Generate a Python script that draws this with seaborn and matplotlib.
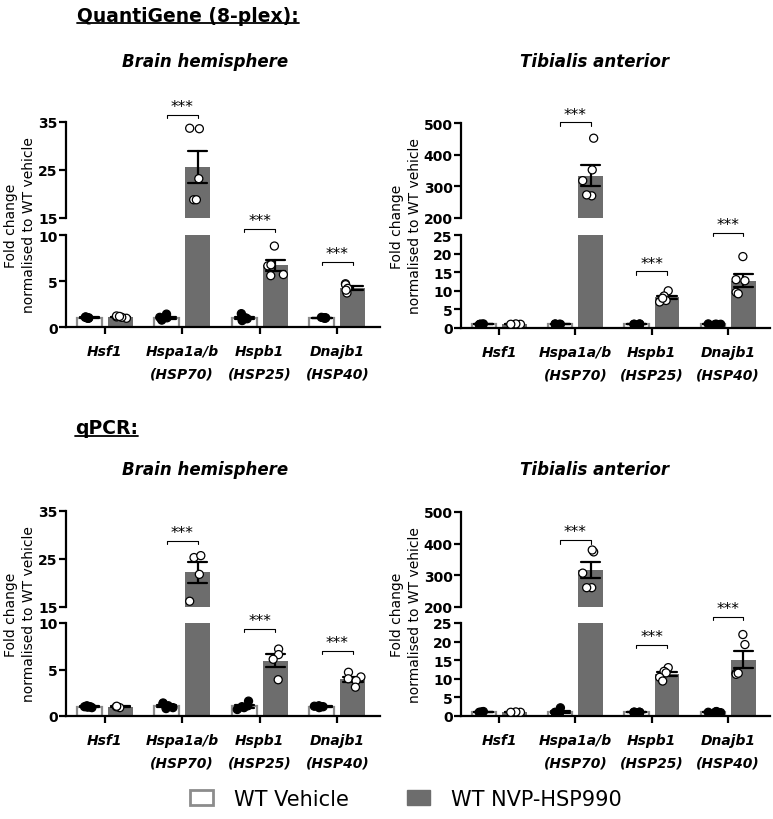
import numpy as np
import pandas as pd
import matplotlib
matplotlib.use("Agg")
import matplotlib.pyplot as plt
import seaborn as sns
from matplotlib.patches import Patch
from matplotlib.lines import Line2D

genes = ["Hsf1", "Hspa1a/b\n(HSP70)", "Hspb1\n(HSP25)", "Dnajb1\n(HSP40)"]
groups = ["WT Vehicle", "WT NVP-HSP990"]

# QuantiGene - brain hemisphere
qg_brain_vehicle = [[0.95, 1.0, 1.05, 1.1, 0.95], [0.75, 0.85, 1.0, 1.05, 1.4],
                    [0.7, 0.9, 1.0, 1.0, 1.45], [0.95, 1.0, 1.0, 1.05, 1.0]]
qg_brain_drug = [[0.95, 1.05, 1.1, 1.2, 1.15], [33.6, 33.7, 23.2, 18.8, 18.8],
                 [8.8, 6.65, 6.76, 5.7, 5.58], [4.7, 4.6, 4.2, 3.7, 4.0]]
qg_brain_stars = [None, 36.5, 10.65, 7.1]

# QuantiGene - tibialis anterior
qg_ta_vehicle = [[0.9, 1.0, 1.1, 1.0, 1.0], [0.9, 1.0, 1.0, 1.1, 1.0],
                 [1.0, 1.1, 1.0, 0.9, 1.0], [1.0, 1.1, 0.9, 1.0, 1.0]]
qg_ta_drug = [[0.9, 1.0, 1.1, 1.0], [452, 352, 318, 270, 273],
              [10.0, 8.6, 7.4, 7.0, 8.0], [19.2, 12.7, 13.0, 9.6, 9.2]]
qg_ta_stars = [None, 502, 15.2, 25.5]

# qPCR - brain hemisphere
qpcr_brain_vehicle = [[0.9, 1.0, 1.1, 1.0, 0.95], [0.8, 0.9, 1.1, 1.4, 1.3],
                      [0.7, 0.9, 1.0, 1.1, 1.6], [0.9, 1.0, 1.1, 1.0, 1.05]]
qpcr_brain_drug = [[0.9, 1.0, 1.05], [25.3, 25.7, 21.8, 16.2],
                   [7.2, 6.6, 6.1, 3.9], [4.7, 4.2, 4.0, 3.8, 3.1]]
qpcr_brain_stars = [None, 28.8, 9.4, 7.0]

# qPCR - tibialis anterior
qpcr_ta_vehicle = [[1.0, 1.1, 1.2, 0.9, 1.0], [0.5, 0.7, 0.9, 1.0, 2.2],
                   [0.95, 1.0, 1.05, 1.0, 1.0], [0.9, 1.0, 1.1, 1.0, 1.2]]
qpcr_ta_drug = [[0.9, 1.0, 1.1, 1.0], [374, 380, 307, 261, 261],
                [13.0, 12.0, 11.6, 10.4, 9.4], [21.9, 19.2, 11.5, 11.2, 11.5]]
qpcr_ta_stars = [None, 411, 19.2, 26.6]

brain_low_ticks = [0, 5, 10]
brain_high_ticks = [15, 25, 35]
ta_low_ticks = [0, 5, 10, 15, 20, 25]
ta_high_ticks = [200, 300, 400, 500]

DRUG = "#6d6d6d"
VEH_EDGE = "#8c8c8c"
W, H = 773, 820

sns.set_theme(style="white")
plt.rcParams["font.family"] = ["DejaVu Sans"]
plt.rcParams["text.color"] = "black"
plt.rcParams["axes.labelcolor"] = "black"
plt.rcParams["xtick.color"] = "black"
plt.rcParams["ytick.color"] = "black"


def to_frame(vehicle, drug):
    rows = []
    for g, v, d in zip(genes, vehicle, drug):
        rows += [(g, groups[0], x) for x in v]
        rows += [(g, groups[1], x) for x in d]
    return pd.DataFrame(rows, columns=["gene", "group", "value"])


def px_axes(fig, x0, x1, ytop, ybot):
    return fig.add_axes([x0 / W, 1 - ybot / H, (x1 - x0) / W, (ybot - ytop) / H])


def draw_bars(ax, df):
    sns.barplot(data=df, x="gene", y="value", hue="group", order=genes,
                hue_order=groups, palette={groups[0]: "white", groups[1]: DRUG},
                errorbar="se", capsize=0.5, gap=0.2, legend=False,
                err_kws={"color": "black", "linewidth": 1.6}, ax=ax)
    for p in ax.containers[0]:
        p.set_edgecolor(VEH_EDGE)
        p.set_linewidth(1.6)
    for p in ax.containers[1]:
        p.set_edgecolor(DRUG)
        p.set_linewidth(0)
    sns.stripplot(data=df, x="gene", y="value", hue="group", order=genes,
                  hue_order=groups, palette={groups[0]: "black", groups[1]: "white"},
                  dodge=True, jitter=0.22, size=5.8, edgecolor="black",
                  linewidth=0.9, legend=False, ax=ax)
    ax.set_xlim(-0.5, 3.55)
    ax.set_xlabel("")
    ax.set_ylabel("")


def bracket(ax, i, y):
    lo, hi = ax.get_ylim()
    h = 0.035 * (hi - lo)
    ax.plot([i - 0.2, i - 0.2, i + 0.2, i + 0.2], [y - h, y, y, y - h],
            color="black", lw=0.8, clip_on=False)
    ax.annotate("***", xy=(i, y), xytext=(0, 0.5), textcoords="offset points",
                ha="center", va="bottom", fontsize=11, annotation_clip=False)


def panel(fig, vehicle, drug, stars, low_ticks, high_ticks, x0, x1, ytop, ybreak, ylow, ybot,
          label_x):
    np.random.seed(3)
    df = to_frame(vehicle, drug)
    ax_hi = px_axes(fig, x0, x1, ytop, ybreak)
    ax_lo = px_axes(fig, x0, x1, ylow, ybot)
    for ax, ticks in [(ax_hi, high_ticks), (ax_lo, low_ticks)]:
        draw_bars(ax, df)
        ax.set_ylim(ticks[0], ticks[-1])
        ax.set_yticks(ticks)
        ax.set_yticklabels([str(t) for t in ticks], fontweight="bold", fontsize=10)
        for s in ["top", "right"]:
            ax.spines[s].set_visible(False)
        ax.spines["left"].set_linewidth(1.6)
        ax.spines["bottom"].set_linewidth(1.6)
        for s in ax.spines.values():
            s.set_color("black")
        ax.tick_params(axis="y", length=5, width=1.6, pad=1, left=True)
        ax.set_facecolor("none")
    ax_hi.spines["bottom"].set_visible(False)
    ax_hi.tick_params(axis="x", bottom=False, labelbottom=False)
    ax_lo.set_xticks(range(len(genes)))
    ax_lo.set_xticklabels(genes, fontweight="bold", fontstyle="italic", fontsize=10,
                          linespacing=1.8)
    ax_lo.tick_params(axis="x", length=5, width=1.6, bottom=True, pad=7)
    for i, y in enumerate(stars):
        if y is None:
            continue
        bracket(ax_hi if y >= high_ticks[0] else ax_lo, i, y)
    fig.text(label_x / W, 1 - (ytop + ybot) / 2 / H,
             "Fold change\nnormalised to WT vehicle", rotation=90,
             ha="center", va="center", multialignment="center", fontsize=10,
             linespacing=1.35)


fig = plt.figure(figsize=(W / 100, H / 100), dpi=100)

panel(fig, qg_brain_vehicle, qg_brain_drug, qg_brain_stars,
      brain_low_ticks, brain_high_ticks, 66, 380, 123, 219, 236, 328, 20)
panel(fig, qg_ta_vehicle, qg_ta_drug, qg_ta_stars,
      ta_low_ticks, ta_high_ticks, 461, 770, 124, 219, 236, 329, 406)
panel(fig, qpcr_brain_vehicle, qpcr_brain_drug, qpcr_brain_stars,
      brain_low_ticks, brain_high_ticks, 66, 380, 512, 608, 624, 717, 20)
panel(fig, qpcr_ta_vehicle, qpcr_ta_drug, qpcr_ta_stars,
      ta_low_ticks, ta_high_ticks, 461, 770, 513, 608, 624, 717, 406)

heads = [
    fig.text(77 / W, 1 - 16 / H, "QuantiGene (8-plex):", fontsize=13.5,
             fontweight="bold", ha="left", va="center"),
    fig.text(75 / W, 1 - 429 / H, "qPCR:", fontsize=13.5,
             fontweight="bold", ha="left", va="center"),
]
for x, y, s in [(205, 62, "Brain hemisphere"), (595, 62, "Tibialis anterior"),
                (205, 470, "Brain hemisphere"), (595, 470, "Tibialis anterior")]:
    fig.text(x / W, 1 - y / H, s, fontsize=12, fontweight="bold",
             fontstyle="italic", ha="center", va="center")

handles = [Patch(facecolor="white", edgecolor=VEH_EDGE, linewidth=2),
           Patch(facecolor=DRUG, edgecolor=DRUG)]
fig.legend(handles=handles, labels=groups, loc="center", bbox_to_anchor=(406 / W, 1 - 800 / H),
           ncol=2, frameon=False, fontsize=15, handlelength=1.1, handleheight=0.7,
           handletextpad=1.0, columnspacing=2.8)

fig.canvas.draw()
inv = fig.transFigure.inverted()
for t in heads:
    bb = t.get_window_extent().transformed(inv)
    fig.add_artist(Line2D([bb.x0, bb.x1], [bb.y0 + 0.002, bb.y0 + 0.002],
                          transform=fig.transFigure, color="black", lw=1.3))

fig.savefig("out.png", dpi=100)
